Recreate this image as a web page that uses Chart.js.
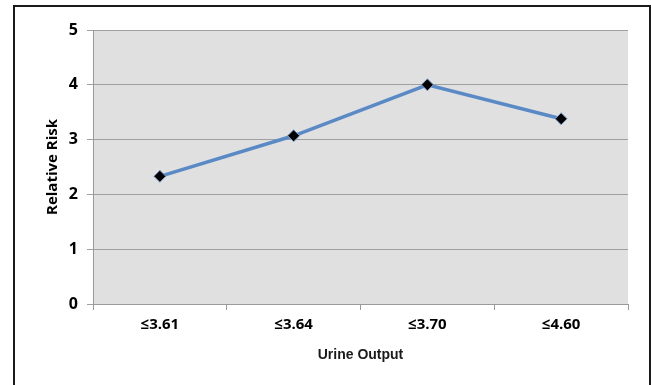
<!DOCTYPE html>
<html>
<head>
<meta charset="utf-8">
<script src="https://cdn.jsdelivr.net/npm/chart.js@4/dist/chart.umd.min.js"></script>
<style>
  html, body { margin: 0; padding: 0; background: #fff; }
  #frame {
    position: absolute; left: 13px; top: 5px; width: 634px; height: 400px;
    border: 2px solid #1a1a1a;
  }
  #wrap { position: absolute; left: 0; top: 0; width: 651px; height: 385px; }
</style>
</head>
<body>
<div id="frame"></div>
<div id="wrap"><canvas id="riskChart" width="651" height="385"></canvas></div>
<script>
const categories = ["≤3.61", "≤3.64", "≤3.70", "≤4.60"];
const relativeRisk = [2.33, 3.07, 4.0, 3.38];
const yTicks = [0, 1, 2, 3, 4, 5];

document.addEventListener("DOMContentLoaded", () => {
    const ctx = document.getElementById("riskChart").getContext("2d");

    // gray plot background like the spreadsheet chart
    const plotBackground = {
        id: "plotBackground",
        beforeDraw(chart) {
            const a = chart.chartArea;
            const c = chart.ctx;
            c.save();
            c.fillStyle = "#e0e0e0";
            c.fillRect(a.left, a.top, a.right - a.left, a.bottom - a.top);
            c.restore();
        }
    };

    new Chart(ctx, {
        type: "line",
        data: {
            labels: categories,
            datasets: [{
                label: "Relative Risk",
                data: relativeRisk,
                borderColor: "#5a8ac6",
                borderWidth: 3.5,
                pointStyle: "rectRot",
                pointRadius: 6,
                pointBackgroundColor: "#000",
                pointBorderColor: "#7fa6d6",
                pointBorderWidth: 1,
                tension: 0
            }]
        },
        options: {
            responsive: false,
            animation: false,
            layout: { padding: { top: 30, right: 23, bottom: 0, left: 0 } },
            plugins: {
                legend: { display: false },
                tooltip: { enabled: false }
            },
            scales: {
                x: {
                    offset: true,
                    grid: {
                        offset: true,
                        drawOnChartArea: false,
                        drawTicks: true,
                        tickLength: 6,
                        color: "#9a9a9a"
                    },
                    border: { color: "#9a9a9a", width: 1 },
                    ticks: {
                        color: "#000",
                        padding: 6,
                        font: { family: "'Open Sans', sans-serif", size: 15, weight: "bold" }
                    },
                    title: {
                        display: true,
                        text: "Urine Output",
                        color: "#1a1a1a",
                        padding: { top: 0, bottom: 21 },
                        font: { family: "'Liberation Sans Narrow', 'Liberation Sans', sans-serif", size: 14, weight: "bold" }
                    },
                    afterFit(scale) { scale.height = 81; }
                },
                y: {
                    min: 0,
                    max: 5,
                    afterBuildTicks(scale) { scale.ticks = yTicks.map(v => ({ value: v })); },
                    grid: {
                        color: "#a0a0a0",
                        lineWidth: 1,
                        drawTicks: true,
                        tickLength: 6
                    },
                    border: { color: "#9a9a9a", width: 1 },
                    ticks: {
                        color: "#000",
                        padding: 9,
                        font: { family: "'Open Sans', sans-serif", size: 16, weight: "bold" }
                    },
                    title: {
                        display: true,
                        text: "Relative Risk",
                        color: "#000",
                        padding: { top: 44, bottom: 0 },
                        font: { family: "'Open Sans', sans-serif", size: 15, weight: "bold" }
                    },
                    afterFit(scale) { scale.width = 93; }
                }
            }
        },
        plugins: [plotBackground]
    });
});
</script>
</body>
</html>
